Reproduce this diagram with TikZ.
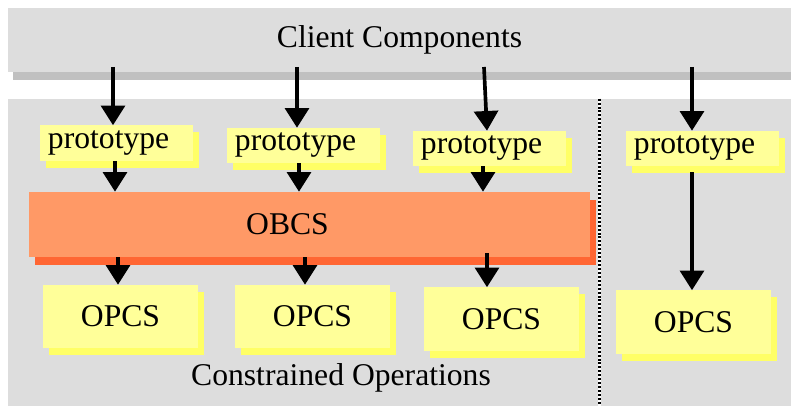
\documentclass[tikz,border=0pt]{standalone}
\usepackage{fontspec}
\setmainfont{Liberation Serif}
\usepackage{xcolor}
\usepackage{tikz}
\usetikzlibrary{arrows.meta,shadows,calc}
\definecolor{panelgrey}{HTML}{DDDDDD}
\definecolor{panelshadow}{HTML}{C0C0C0}
\definecolor{protoyellow}{HTML}{FFFF99}
\definecolor{protoshadow}{HTML}{FFFF66}
\definecolor{obcsorange}{HTML}{FF9966}
\definecolor{obcsshadow}{HTML}{FF6633}
\tikzset{
    every node/.style={font=\rmfamily\fontsize{22.5}{27}\selectfont},
    band/.style={
        fill=panelgrey, inner sep=0pt,
        minimum width=19.575cm
    },
    proto/.style={
        fill=protoyellow, text width=3.425cm, inner xsep=0.2cm, inner ysep=0pt,
        align=left, minimum height=0.875cm,
        general shadow={fill=protoshadow, shadow xshift=0.15cm, shadow yshift=-0.175cm}
    },
    opcs/.style={
        fill=protoyellow, inner sep=0pt,
        minimum width=3.875cm, minimum height=1.575cm,
        general shadow={fill=protoshadow, shadow xshift=0.15cm, shadow yshift=-0.175cm}
    },
    obcs/.style={
        fill=obcsorange, inner sep=0pt,
        minimum width=14.025cm, minimum height=1.625cm,
        general shadow={fill=obcsshadow, shadow xshift=0.15cm, shadow yshift=-0.2cm}
    },
    flow/.style={line width=2.6pt, -{Triangle[width=17pt,length=14pt]}},
    divider/.style={line width=1.6pt, dash pattern=on 1.4pt off 1.4pt}
}

\begin{document}
\begin{tikzpicture}[x=0.025cm, y=-0.025cm]

\useasboundingbox (0,0) rectangle (791,406);

% grey panels
\node[band, minimum height=1.6cm,
    general shadow={fill=panelshadow, shadow xshift=0.125cm, shadow yshift=-0.2cm}]
    (client) at (399.5,40) {Client Components};
\node[band, minimum height=7.675cm] (ops) at (399.5,252.5) {};
\node (opslabel) at (341,378) {Constrained Operations};

\coordinate (split) at (599.5,0);
\draw[white, line width=1.6pt] (split |- ops.north) -- (split |- ops.south);
\draw[divider] (split |- ops.north) -- (split |- ops.south);

% prototypes
\node[proto] (proto1) at (116.5,143) {prototype};
\node[proto] (proto2) at (303.5,145.5) {prototype};
\node[proto] (proto3) at (489.5,148.5) {prototype};
\node[proto] (proto4) at (702.5,148.5) {prototype};

\node[obcs, label={[xshift=-0.55cm]center:OBCS}] (obcs) at (309.5,224.5) {};

\node[opcs] (opcs1) at (120.5,316.5) {OPCS};
\node[opcs] (opcs2) at (312.5,316.5) {OPCS};
\node[opcs] (opcs3) at (501.5,319) {OPCS};
\node[opcs] (opcs4) at (693.5,322) {OPCS};

% calls from the clients
\coordinate (in1) at (113,67);
\coordinate (in2) at (297,67);
\coordinate (in3) at (484,67);
\coordinate (in4) at (692,67);
\draw[flow] (in1) -- (in1 |- proto1.north);
\draw[flow] (in2) -- (in2 |- proto2.north);
\draw[flow] (in3) -- ($(proto3.north)+(-2.5,0)$);
\draw[flow] (in4) -- (in4 |- proto4.north);

% prototypes into the OBCS
\coordinate (mid1) at ($(proto1.south)+(-1.5,0)$);
\coordinate (mid2) at ($(proto2.south)+(-4.5,0)$);
\coordinate (mid3) at ($(proto3.south)+(-6.5,0)$);
\draw[flow] (mid1) -- (mid1 |- obcs.north);
\draw[flow] (mid2) -- (mid2 |- obcs.north);
\draw[flow] (mid3) -- (mid3 |- obcs.north);

% OBCS down to the OPCS
\coordinate (out1) at ($(opcs1.north)+(-2.5,0)$);
\coordinate (out2) at ($(opcs2.north)+(-7.5,0)$);
\coordinate (out3) at ($(opcs3.north)+(-14.5,0)$);
\coordinate (out4) at ($(opcs4.north)+(-1.5,0)$);
\draw[flow] (out1 |- obcs.south) -- (out1);
\draw[flow] (out2 |- obcs.south) -- (out2);
\draw[flow] ($(out3 |- obcs.south)+(0,-4)$) -- (out3);
\draw[flow, shorten <=0.15cm] (out4 |- proto4.south) -- (out4);

\end{tikzpicture}
\end{document}
